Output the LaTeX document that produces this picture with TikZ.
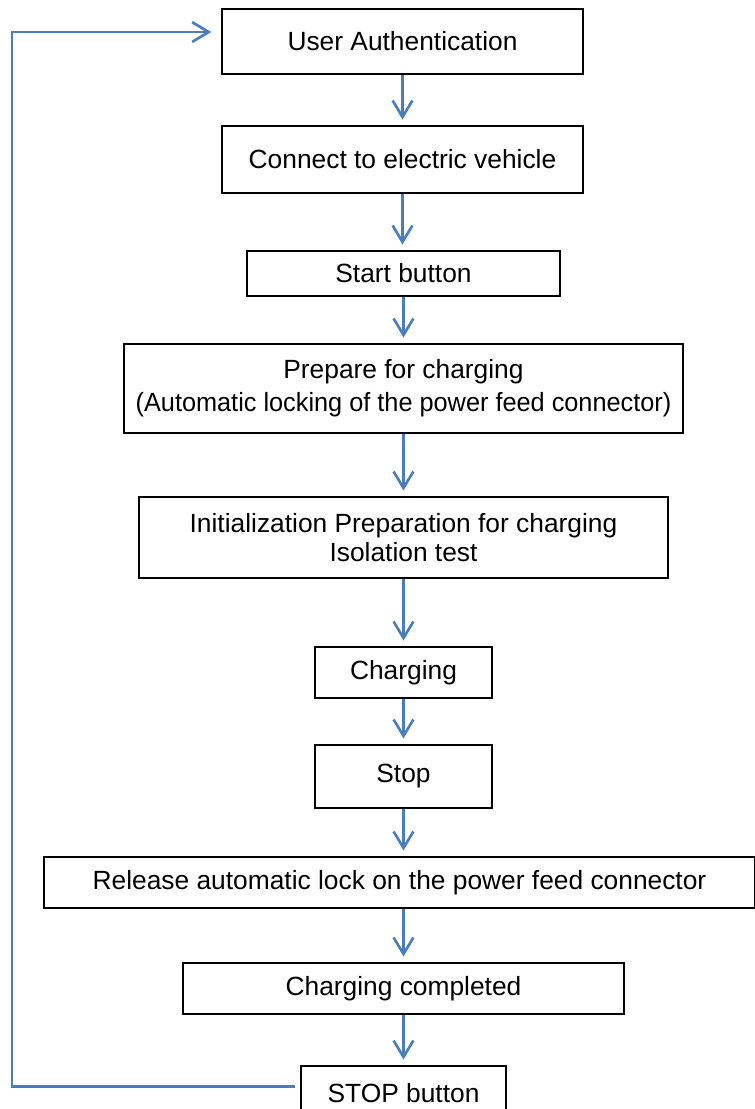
\documentclass[tikz,border=0pt]{standalone}
\usepackage{fontspec}
\setmainfont{Liberation Sans}
\usepackage{tikz}
\usetikzlibrary{arrows.meta}
\usepackage{xcolor}
\definecolor{flowblue}{RGB}{74,126,187}

\begin{document}
\begin{tikzpicture}[x=0.016cm,y=-0.016cm,
  stepbox/.style={draw,line width=0.9pt,inner sep=0pt,align=center,
    font=\fontsize{12}{15}\selectfont},
  flow/.style={draw=flowblue,line width=1.2pt,
    -{Straight Barb[length=7.5pt,width=9pt]},shorten >=2.5pt}]
\useasboundingbox (0,0) rectangle (755,1109);
\clip (0,0) rectangle (755,1109);
\node[stepbox,minimum width=5.776cm,minimum height=1.04cm] (auth) at (402.5,41.5) {User Authentication};
\node[stepbox,minimum width=5.776cm,minimum height=1.072cm] (connect) at (402.5,159.5) {Connect to electric vehicle};
\node[stepbox,minimum width=5.008cm,minimum height=0.72cm] (start) at (403.5,273.5) {Start button};
\node[stepbox,minimum width=8.944cm,minimum height=1.424cm] (prepare) at (403.5,388.5) {\raisebox{-2pt}{Prepare for charging}\\\raisebox{-2pt}{\scalebox{0.96}[1]{(Automatic locking of the power feed connector)}}};
\node[stepbox,minimum width=8.464cm,minimum height=1.296cm,font=\fontsize{12}{13.5}\selectfont] (init) at (403.5,537.5) {Initialization Preparation for charging\\Isolation test};
\node[stepbox,minimum width=2.832cm,minimum height=0.816cm] (charging) at (403.5,672.5) {Charging};
\node[stepbox,minimum width=2.832cm,minimum height=1.008cm] (stop) at (403.5,776.5) {Stop};
\node[stepbox,minimum width=11.376cm,minimum height=0.816cm] (release) at (399.5,882.5) {Release automatic lock on the power feed connector};
\node[stepbox,minimum width=7.056cm,minimum height=0.816cm] (done) at (403.5,988.5) {Charging completed};
\node[stepbox,minimum width=3.28cm,minimum height=0.864cm] (stopbtn) at (403.5,1093) {STOP button};
% flow down the chain
\draw[flow] (auth.south) -- (auth.south |- connect.north);
\draw[flow] (connect.south) -- (connect.south |- start.north);
\draw[flow] (start.south) -- (start.south |- prepare.north);
\draw[flow] (prepare.south) -- (prepare.south |- init.north);
\draw[flow] (init.south) -- (init.south |- charging.north);
\draw[flow] (charging.south) -- (charging.south |- stop.north);
\draw[flow] (stop.south) -- (stop.south |- release.north);
\draw[flow] (done.north |- release.south) -- (done.north);
\draw[flow] (done.south) -- (done.south |- stopbtn.north);
% back to the start
\coordinate (back) at (12,32);
\draw[flow,shorten <=2.3pt,shorten >=4.5pt] ([yshift=3]stopbtn.west) -- ([yshift=3]stopbtn.west -| back) -- (back) -- (auth.west |- back);
\end{tikzpicture}
\end{document}
